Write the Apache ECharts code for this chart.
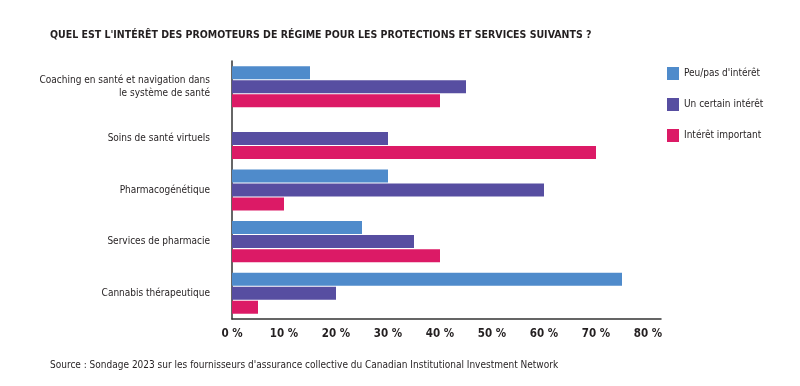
<!DOCTYPE html>
<html><head><meta charset="utf-8">
<script src="https://cdn.jsdelivr.net/npm/echarts@6/dist/echarts.min.js"></script>
<style>html,body{margin:0;padding:0;background:#fff}#c{width:800px;height:386px}</style>
</head><body><div id="c"></div>
<script>
const categories = ["Coaching en santé et navigation dans\nle système de santé", "Soins de santé virtuels", "Pharmacogénétique", "Services de pharmacie", "Cannabis thérapeutique"];
const peu = [15, 0, 30, 25, 75];
const certain = [45, 30, 60, 35, 20];
const important = [40, 70, 10, 40, 5];
const seriesNames = ["Peu/pas d'intérêt", "Un certain intérêt", "Intérêt important"];
const tickValues = [0, 10, 20, 30, 40, 50, 60, 70, 80];

const FONT = "'DejaVu Sans Condensed', 'Roboto', sans-serif";
const chart = echarts.init(document.getElementById('c'), null, {renderer: 'canvas'});
const colors = ['#4f8bcb', '#574ea1', '#dc1a66'];
chart.setOption({
  animation: false,
  textStyle: {fontFamily: FONT},
  title: [
    {text: "QUEL EST L'INTÉRÊT DES PROMOTEURS DE RÉGIME POUR LES PROTECTIONS ET SERVICES SUIVANTS ?", left: 50, top: 30, padding: 0,
     textStyle: {fontFamily: FONT, fontSize: 10.5, fontWeight: 'bold', color: '#231f20'}},
    {text: "Source : Sondage 2023 sur les fournisseurs d'assurance collective du Canadian Institutional Investment Network", left: 50, top: 360, padding: 0,
     textStyle: {fontFamily: FONT, fontSize: 10, fontWeight: 'normal', color: '#231f20'}}
  ],
  legend: {
    orient: 'vertical', left: 667, top: 67, itemWidth: 12, itemHeight: 13, itemGap: 18, padding: 0,
    icon: 'rect', textStyle: {fontFamily: FONT, fontSize: 10, color: '#231f20'},
    data: seriesNames
  },
  grid: {left: 232, right: 139, top: 61, bottom: 67, containLabel: false},
  xAxis: {
    type: 'value', min: 0, max: 82.5, interval: 10,
    splitLine: {show: false},
    axisTick: {show: false},
    axisLine: {show: true, lineStyle: {color: '#333', width: 1.5}},
    axisLabel: {margin: 9, fontFamily: FONT, fontSize: 11.5, fontWeight: 'bold', color: '#231f20',
      formatter: v => tickValues.includes(v) ? v + ' %' : ''}
  },
  yAxis: {
    type: 'category', data: categories, inverse: true,
    axisTick: {show: false},
    axisLine: {show: true, lineStyle: {color: '#333', width: 1.5}},
    axisLabel: {margin: 22, fontFamily: FONT, fontSize: 10, color: '#231f20', lineHeight: 13, align: 'right'}
  },
  series: [
    {name: seriesNames[0], type: 'bar', data: peu, itemStyle: {color: colors[0]}, barWidth: 13, barGap: '8%', barCategoryGap: '20%'},
    {name: seriesNames[1], type: 'bar', data: certain, itemStyle: {color: colors[1]}, barWidth: 13, barGap: '8%'},
    {name: seriesNames[2], type: 'bar', data: important, itemStyle: {color: colors[2]}, barWidth: 13, barGap: '8%'}
  ]
});
</script></body></html>
